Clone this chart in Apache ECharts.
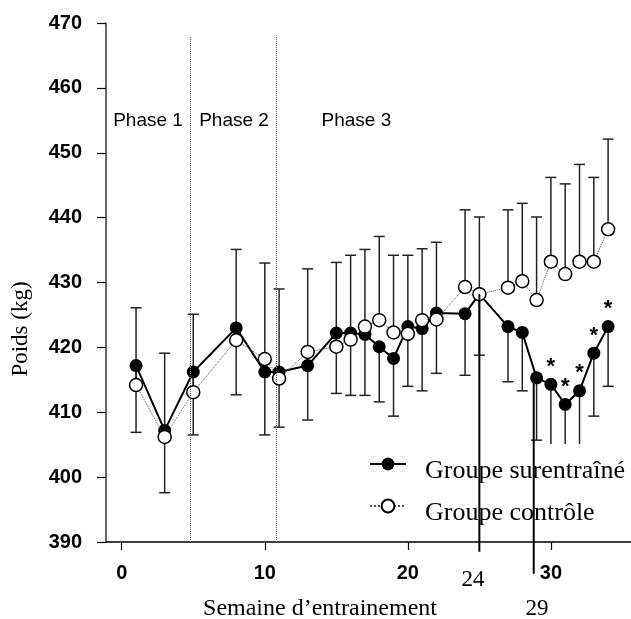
<!DOCTYPE html>
<html><head><meta charset="utf-8">
<script src="https://cdn.jsdelivr.net/npm/echarts@6/dist/echarts.min.js"></script>
<style>html,body{margin:0;padding:0;background:#fff}#c{width:631px;height:619px}</style>
</head><body><div id="c"></div>
<script>
// ---- data ----
const weeks = [1,3,5,8,10,11,13,15,16,17,18,19,20,21,22,24,25,27,28,29,30,31,32,33,34];
const trained = [417.2,407.2,416.2,423,416.2,416.2,417.2,422.2,422.2,422,420.1,418.3,423.2,422.9,425.3,425.2,428.2,423.2,422.3,415.3,414.3,411.2,413.3,419.1,423.2];
const control = [414.2,406.2,413.1,421.1,418.2,415.2,419.3,420.1,421.2,423.2,424.2,422.3,422.1,424.2,424.3,429.3,428.2,429.2,430.2,427.3,433.2,431.3,433.2,433.2,438.2];
const controlUpper = [426.1,419.1,425.1,435.1,433,429,432.1,433.1,434.2,435.1,437.1,434.2,434.2,435.2,436.2,441.2,440.1,441.2,442.2,440.1,446.2,445.2,448.2,446.2,452.1];
const trainedLower = [406.9,397.6,406.5,412.7,406.5,407.7,408.8,412.9,412.6,412.6,411.6,409.4,414,413.3,416,415.7,418.8,414.7,413.3,405.7,403,402,403,409.4,414];
const sigWeeks = [30,31,32,33,34];
const seriesNames = ['Groupe surentraîné','Groupe contrôle'];
const xTickValues = [0,10,20,30];
const yMin = 390, yMax = 470, yStep = 10;
const phaseBounds = [4.8, 10.8];
const phaseNames = ['Phase 1','Phase 2','Phase 3'];
const phaseCenters = [1.84, 7.85, 16.4];
const phaseLabelLevel = 455;
const annoLabels = ['24','29'];
const annoWeeks = [25, 28.8];
const annoTop = [428.2, 415.3];
const annoBottom = [388.5, 385.1];
const xAxisTitle = 'Semaine d’entrainement';
const yAxisTitle = 'Poids (kg)';

const chart = echarts.init(document.getElementById('c'), null, {renderer:'canvas'});
const sans = '"Liberation Sans", Arial, Helvetica, sans-serif';
const serif = '"Liberation Serif", "Times New Roman", serif';

function errRender(params, api){
  const x = api.value(0), v = api.value(1), e = api.value(2);
  const p0 = api.coord([x, v]), p1 = api.coord([x, e]);
  const cw = 5.5;
  return {type:'group', children:[
    {type:'line', shape:{x1:p0[0], y1:p0[1], x2:p1[0], y2:p1[1]}, style:{stroke:'#222', lineWidth:1.5}},
    {type:'line', shape:{x1:p1[0]-cw, y1:p1[1], x2:p1[0]+cw, y2:p1[1]}, style:{stroke:'#222', lineWidth:1.5}}
  ]};
}

const option = {
  animation:false,
  backgroundColor:'#fff',
  grid:{left:106, right:0, top:23, bottom:77, containLabel:false},
  xAxis:{
    type:'value', min:-1.1, max:35.6,
    axisLine:{show:true, onZero:false, lineStyle:{color:'#000', width:1.5}},
    axisTick:{show:true, customValues:xTickValues, length:8, lineStyle:{color:'#000', width:1.2}},
    axisLabel:{customValues:xTickValues, margin:21, fontFamily:sans, fontSize:20, fontWeight:'bold', color:'#000'},
    splitLine:{show:false}
  },
  yAxis:{
    type:'value', min:yMin, max:yMax, interval:yStep,
    axisLine:{show:true, onZero:false, lineStyle:{color:'#333', width:1.5}},
    axisTick:{show:true, length:9, lineStyle:{color:'#000', width:1.2}},
    axisLabel:{margin:24, fontFamily:sans, fontSize:20, fontWeight:'bold', color:'#000'},
    splitLine:{show:false}
  },
  legend:{
    data:seriesNames, orient:'vertical', left:369, top:444, padding:0, itemGap:2,
    itemWidth:36, itemHeight:16, backgroundColor:'#fff',
    formatter:function(name){ return '{t|' + name + '}'; },
    textStyle:{color:'#000', rich:{t:{fontFamily:serif, fontSize:26, color:'#000', lineHeight:26, padding:[14,0,0,14]}}}
  },
  graphic:[
    {type:'text', x:21, y:329, rotation:Math.PI/2, style:{text:yAxisTitle, font:'23px '+serif, fill:'#000', align:'center', verticalAlign:'middle'}},
    {type:'text', x:320, y:609, style:{text:xAxisTitle, font:'24px '+serif, fill:'#000', align:'center', verticalAlign:'middle'}},
    {type:'text', x:473, y:580, z:20, style:{text:annoLabels[0], font:'23px '+serif, fill:'#000', align:'center', verticalAlign:'middle'}},
    {type:'text', x:537, y:609, z:20, style:{text:annoLabels[1], font:'23px '+serif, fill:'#000', align:'center', verticalAlign:'middle'}}
  ],
  series:[
    {
      name:'errC', type:'custom', z:1, renderItem:errRender,
      data:weeks.map((w,i)=>[w, control[i], controlUpper[i]]),
      markLine:{
        silent:true, symbol:['none','none'], label:{show:false},
        lineStyle:{type:'dotted', color:'#666', width:1},
        data:phaseBounds.map(b=>[{coord:[b, yMin]},{coord:[b, 468]}])
      }
    },
    {
      name:'errT', type:'custom', z:1, renderItem:errRender,
      data:weeks.map((w,i)=>[w, trained[i], trainedLower[i]])
    },
    {
      name:seriesNames[0], type:'line', z:3,
      symbol:'circle', symbolSize:13,
      lineStyle:{color:'#000', width:2},
      itemStyle:{color:'#000'},
      label:{show:false},
      data:weeks.map((w,i)=>({value:[w, trained[i]],
        label:{show:sigWeeks.includes(w), position:'top', distance:0, formatter:'*',
               fontFamily:sans, fontSize:22, fontWeight:'bold', color:'#000'}}))
    },
    {
      name:seriesNames[1], type:'line', z:4,
      symbol:'circle', symbolSize:13,
      lineStyle:{color:'#555', width:1, type:'dotted'},
      itemStyle:{color:'#fff', borderColor:'#000', borderWidth:1.5},
      data:weeks.map((w,i)=>[w, control[i]])
    },
    {
      name:'phases', type:'custom', z:2, silent:true,
      renderItem:function(params, api){
        const p = api.coord([api.value(0), api.value(1)]);
        return {type:'text', x:p[0], y:p[1], style:{text:phaseNames[params.dataIndex], font:'19px '+sans, fill:'#000', align:'center', verticalAlign:'middle'}};
      },
      data:phaseCenters.map(c=>[c, phaseLabelLevel])
    },
    {
      name:'annot', type:'custom', z:10, clip:false, silent:true,
      renderItem:function(params, api){
        const x = api.value(0);
        const p0 = api.coord([x, api.value(1)]), p1 = api.coord([x, api.value(2)]);
        return {type:'line', z2:100, shape:{x1:p0[0], y1:p0[1], x2:p1[0], y2:p1[1]}, style:{stroke:'#000', lineWidth:2}};
      },
      data:annoWeeks.map((w,i)=>[w, annoTop[i], annoBottom[i]])
    }
  ]
};
chart.setOption(option);
</script></body></html>
